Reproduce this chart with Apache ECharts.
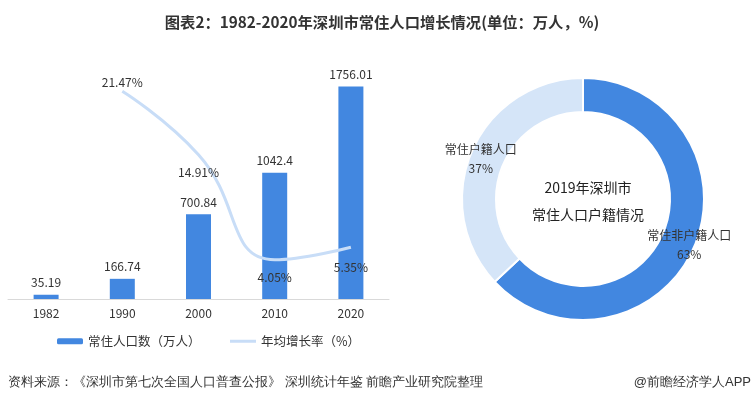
<!DOCTYPE html>
<html>
<head>
<meta charset="utf-8">
<script src="https://cdn.jsdelivr.net/npm/echarts@6/dist/echarts.min.js"></script>
<style>
html,body{margin:0;padding:0;background:#fff;}
#main{width:752px;height:405px;}
</style>
</head>
<body>
<div id="main"></div>
<script>
var years = ['1982', '1990', '2000', '2010', '2020'];
var population = [35.19, 166.74, 700.84, 1042.4, 1756.01];
var growthRate = [null, 21.47, 14.91, 4.05, 5.35];
var pieNames = ['常住非户籍人口', '常住户籍人口'];
var pieValues = [63, 37];

var FONT = '"Noto Sans CJK SC", "Noto Sans", sans-serif';
var ratePos = [null, 'top', 'bottom', 'bottom', 'bottom'];
var rateDist = [0, 3, 12, 12, 14];
var pieLabelOffset = [[8, 3], [-4, 2]];

var chart = echarts.init(document.getElementById('main'));
chart.setOption({
  backgroundColor: '#fff',
  animation: false,
  textStyle: { fontFamily: FONT },
  title: [
    {
      text: '图表2：1982-2020年深圳市常住人口增长情况(单位：万人，%)',
      left: 377, top: 10, textAlign: 'center',
      textStyle: { fontSize: 15.3, fontWeight: 'bold', color: '#333', fontFamily: FONT }
    },
    {
      text: '2019年深圳市\n常住人口户籍情况',
      left: 583, top: 169, textAlign: 'center',
      textStyle: { fontSize: 14, fontWeight: 'normal', color: '#222', lineHeight: 27, fontFamily: FONT }
    }
  ],
  legend: {
    data: [
      { name: '常住人口数（万人）' },
      { name: '年均增长率（%）', itemStyle: { opacity: 0 }, lineStyle: { width: 3, color: '#c8ddf7' } }
    ],
    left: 52, top: 330,
    itemWidth: 26, itemHeight: 6, itemGap: 28,
    textStyle: { fontSize: 12.5, color: '#333', fontFamily: FONT }
  },
  graphic: [
    {
      type: 'text', left: 8, top: 376,
      style: { text: '资料来源：《深圳市第七次全国人口普查公报》 深圳统计年鉴 前瞻产业研究院整理', fontSize: 13, fill: '#333', font: '13px ' + FONT }
    },
    {
      type: 'text', right: 1, top: 376,
      style: { text: '@前瞻经济学人APP', fontSize: 13, fill: '#333', font: '13px ' + FONT }
    }
  ],
  grid: { left: 8, right: 363, top: 57, bottom: 106 },
  xAxis: {
    type: 'category',
    data: years,
    axisLine: { lineStyle: { color: '#d9d9d9' } },
    axisTick: { show: false },
    axisLabel: { color: '#333', fontSize: 12, margin: 8 }
  },
  yAxis: [
    { type: 'value', min: 0, max: 2000, show: false, splitLine: { show: false } },
    { type: 'value', min: 0, max: 25, show: false, splitLine: { show: false } }
  ],
  series: [
    {
      name: '常住人口数（万人）',
      type: 'bar',
      data: population,
      barWidth: 25,
      itemStyle: { color: '#4287e0' },
      label: { show: true, position: 'top', distance: 6, color: '#333', fontSize: 12 }
    },
    {
      name: '年均增长率（%）',
      type: 'line',
      yAxisIndex: 1,
      smooth: true,
      symbol: 'circle',
      symbolSize: 0,
      showSymbol: true,
      connectNulls: false,
      data: growthRate.map(function (v, i) {
        return v === null ? null : {
          value: v,
          label: { show: true, position: ratePos[i], distance: rateDist[i] }
        };
      }),
      lineStyle: { color: '#c8ddf7', width: 3 },
      itemStyle: { color: '#c8ddf7' },
      label: { show: true, color: '#333', fontSize: 12, formatter: '{c}%' }
    },
    {
      name: '户籍',
      type: 'pie',
      center: [583, 199],
      radius: [87, 121],
      startAngle: 90,
      clockwise: true,
      avoidLabelOverlap: false,
      data: pieNames.map(function (n, i) {
        return { name: n, value: pieValues[i], label: { offset: pieLabelOffset[i] } };
      }),
      itemStyle: { borderColor: '#fff', borderWidth: 2 },
      color: ['#4287e0', '#d5e5f8'],
      label: { show: true, position: 'inside', formatter: '{b}\n{d}%', color: '#333', fontSize: 12, lineHeight: 19 },
      labelLine: { show: false },
      emphasis: { disabled: true }
    }
  ]
});
</script>
</body>
</html>
